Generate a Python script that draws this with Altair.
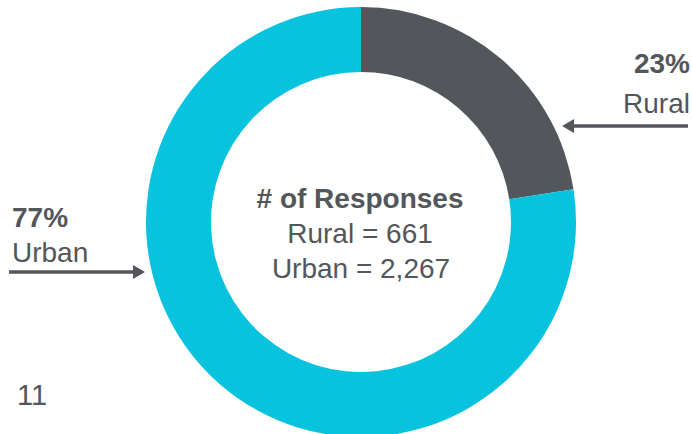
import altair as alt
import pandas as pd

# Data
categories = ["Rural", "Urban"]
responses = [661, 2267]
percent_labels = ["23%", "77%"]
center_lines = ["# of Responses", "Rural = 661", "Urban = 2,267"]
page_number = ["11"]

DARK = "#53565A"
CYAN = "#07C3DD"
TEXT = "#53565A"
FONT = "Liberation Sans"

W, H = 692, 434
CX, CY = 361, 222

df = pd.DataFrame({"category": categories, "value": responses, "order": [0, 1]})

donut = alt.Chart(df).mark_arc(innerRadius=150, outerRadius=215, stroke=None).encode(
    theta=alt.Theta("value:Q", stack=True),
    color=alt.Color("category:N", scale=alt.Scale(domain=categories, range=[DARK, CYAN]), legend=None),
    order=alt.Order("order:Q"),
    x=alt.value(CX),
    y=alt.value(CY),
)

def txt(text, x, y, size=28, bold=False, align="left"):
    d = pd.DataFrame({"t": [text]})
    return alt.Chart(d).mark_text(
        font=FONT, fontSize=size, fontWeight="bold" if bold else "normal",
        color=TEXT, align=align, baseline="alphabetic",
    ).encode(text="t:N", x=alt.value(x), y=alt.value(y))

center = (
    txt(center_lines[0], 360, 208, bold=True, align="center")
    + txt(center_lines[1], 360, 243, align="center")
    + txt(center_lines[2], 361, 278, align="center")
)

right_lbl = txt(percent_labels[0], 690, 73, bold=True, align="right") + txt(categories[0], 690, 113, align="right")
left_lbl = txt(percent_labels[1], 12, 227, bold=True) + txt(categories[1], 12, 262)
page = txt(page_number[0], 17, 405, size=29)

dummy = pd.DataFrame({"a": [0]})
right_shaft = alt.Chart(dummy).mark_rule(color=DARK, strokeWidth=3.5).encode(
    x=alt.value(572), x2=alt.value(688), y=alt.value(126))
right_head = alt.Chart(dummy).mark_point(shape="triangle-left", filled=True, color=DARK, size=190, opacity=1).encode(
    x=alt.value(568), y=alt.value(126))
left_shaft = alt.Chart(dummy).mark_rule(color=DARK, strokeWidth=3.5).encode(
    x=alt.value(9), x2=alt.value(136), y=alt.value(272))
left_head = alt.Chart(dummy).mark_point(shape="triangle-right", filled=True, color=DARK, size=190, opacity=1).encode(
    x=alt.value(139), y=alt.value(272))

chart = alt.layer(
    donut, center, right_lbl, left_lbl, page, right_shaft, right_head, left_shaft, left_head
).properties(
    width=W, height=H, padding=0, autosize=alt.AutoSizeParams(type="none"), background="white"
).configure_view(stroke=None)

chart.save("out.html", embed_options={"renderer": "svg", "actions": False})
